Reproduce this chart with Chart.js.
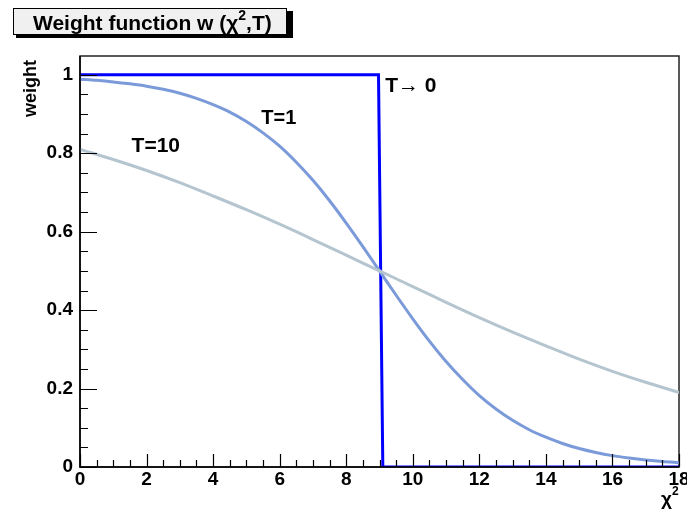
<!DOCTYPE html>
<html>
<head>
<meta charset="utf-8">
<script src="https://cdn.jsdelivr.net/npm/chart.js@4.4.0/dist/chart.umd.min.js"></script>
<style>
  html,body{margin:0;padding:0;background:#fff;}
  canvas{display:block;}
</style>
</head>
<body>
<canvas id="c" width="687" height="509"></canvas>
<script>
// data
const xT1 = [0,0.5,1,1.5,2,2.5,3,3.5,4,4.5,5,5.5,6,6.5,7,7.5,8,8.5,9,9.5,10,10.5,11,11.5,12,12.5,13,13.5,14,14.5,15,15.5,16,16.5,17,17.5,18];
const wT1 = [0.989,0.986,0.982,0.977,0.971,0.963,0.953,0.940,0.924,0.905,0.881,0.852,0.818,0.777,0.731,0.679,0.622,0.562,0.500,0.438,0.378,0.321,0.269,0.223,0.182,0.148,0.119,0.095,0.076,0.060,0.047,0.037,0.029,0.023,0.018,0.014,0.011];
const xT10 = [0,1,2,3,4,5,6,7,8,9,10,11,12,13,14,15,16,17,18];
const wT10 = [0.810,0.784,0.756,0.725,0.691,0.656,0.619,0.580,0.540,0.500,0.460,0.420,0.381,0.344,0.309,0.275,0.244,0.216,0.190];
const xT0 = [0,8.97,9.1,18];
const wT0 = [1,1,0,0];

const xTicks = [0,2,4,6,8,10,12,14,16,18];
const yTicks = [0,0.2,0.4,0.6,0.8,1];
const yTickLabels = ['0','0.2','0.4','0.6','0.8','1'];

// curve labels, in data coords
const curveLabels = [
  {text:'T\u2192 0', x:9.17, y:0.97, size:21},
  {text:'T=1',      x:5.45, y:0.888, size:20},
  {text:'T=10',     x:1.55, y:0.817, size:21}
];

const pts = (xs, ys) => xs.map((x,i)=>({x:x, y:ys[i]}));
const F = '"Liberation Sans", Arial, sans-serif';

const rootAxes = {
  id:'rootAxes',
  beforeDatasetsDraw(chart){
    const {ctx, chartArea:a} = chart;
    ctx.save();
    ctx.strokeStyle = '#222';
    ctx.lineWidth = 1.5;
    ctx.strokeRect(a.left, a.top, a.right-a.left, a.bottom-a.top);
    ctx.restore();
  },
  afterDatasetsDraw(chart){
    const {ctx, chartArea:a, scales:{x, y}} = chart;
    ctx.save();
    ctx.strokeStyle = '#000';
    ctx.lineWidth = 1.2;
    ctx.beginPath();
    // x ticks: major every 2, 3 minor in between
    for(let v=0; v<=18.001; v+=0.5){
      const px = Math.round(x.getPixelForValue(v))+0.5;
      const major = xTicks.some(t=>Math.abs(t-v)<1e-6);
      ctx.moveTo(px, a.bottom); ctx.lineTo(px, a.bottom-(major?13:7));
    }
    // y ticks: major every 0.2, minor every 0.05
    for(let v=0; v<=1.0001; v+=0.05){
      const py = Math.round(y.getPixelForValue(v))+0.5;
      const major = yTicks.some(t=>Math.abs(t-v)<1e-6);
      ctx.moveTo(a.left, py); ctx.lineTo(a.left+(major?17:8), py);
    }
    ctx.stroke();
    // left & bottom axis lines
    ctx.lineWidth = 1.5;
    ctx.beginPath();
    ctx.moveTo(a.left, a.top); ctx.lineTo(a.left, a.bottom); ctx.lineTo(a.right, a.bottom);
    ctx.stroke();

    ctx.fillStyle = '#000';
    ctx.font = 'bold 19px '+F;
    ctx.textAlign = 'center'; ctx.textBaseline = 'top';
    xTicks.forEach(t=> ctx.fillText(String(t), x.getPixelForValue(t), a.bottom+3));
    ctx.textAlign = 'right'; ctx.textBaseline = 'middle';
    yTicks.forEach((t,i)=> ctx.fillText(yTickLabels[i], a.left-7, y.getPixelForValue(t)));

    // axis titles
    ctx.font = 'bold 19px '+F;
    ctx.textAlign = 'right'; ctx.textBaseline = 'alphabetic';
    ctx.fillText('\u03C7', a.right-7, 505);
    ctx.font = 'bold 12px '+F;
    ctx.textAlign = 'left';
    ctx.fillText('2', a.right-7, 495);
    ctx.save();
    ctx.translate(36, 60);
    ctx.rotate(-Math.PI/2);
    ctx.font = 'bold 18px '+F;
    ctx.textAlign = 'right';
    ctx.fillText('weight', 0, 0);
    ctx.restore();

    // curve labels
    curveLabels.forEach(l=>{
      ctx.font = 'bold '+l.size+'px '+F;
      ctx.textAlign = 'left'; ctx.textBaseline = 'middle';
      ctx.fillText(l.text, x.getPixelForValue(l.x), y.getPixelForValue(l.y));
    });

    // title box with shadow
    ctx.fillStyle = '#000';
    ctx.fillRect(16, 11, 277, 27);
    ctx.fillStyle = '#f0f0f0';
    ctx.fillRect(13, 8, 274, 27);
    ctx.strokeStyle = '#000'; ctx.lineWidth = 1;
    ctx.strokeRect(13.5, 8.5, 273, 26);
    ctx.fillStyle = '#000';
    ctx.font = 'bold 21px '+F;
    ctx.textAlign = 'left'; ctx.textBaseline = 'alphabetic';
    let tx = 33;
    const t1 = 'Weight function w (\u03C7';
    ctx.fillText(t1, tx, 30); tx += ctx.measureText(t1).width;
    ctx.font = 'bold 14px '+F;
    ctx.fillText('2', tx, 20); tx += ctx.measureText('2').width;
    ctx.font = 'bold 21px '+F;
    ctx.fillText(',T)', tx, 30);
    ctx.restore();
  }
};

new Chart(document.getElementById('c'), {
  type:'line',
  data:{ datasets:[
    {label:'T=10', data:pts(xT10,wT10), borderColor:'#b5c5cf', borderWidth:3, pointRadius:0, tension:0.3, fill:false},
    {label:'T=1', data:pts(xT1,wT1), borderColor:'#7b9ad9', borderWidth:3, pointRadius:0, tension:0.3, fill:false},
    {label:'T->0', data:pts(xT0,wT0), borderColor:'#0000ff', borderWidth:3, pointRadius:0, tension:0, fill:false}
  ]},
  options:{
    responsive:false, animation:false,
    layout:{ padding:{left:80, top:56, right:8, bottom:42} },
    plugins:{ legend:{display:false}, tooltip:{enabled:false} },
    scales:{
      x:{ type:'linear', min:0, max:18, display:false },
      y:{ type:'linear', min:0, max:1.048, display:false }
    }
  },
  plugins:[rootAxes]
});
</script>
</body>
</html>
